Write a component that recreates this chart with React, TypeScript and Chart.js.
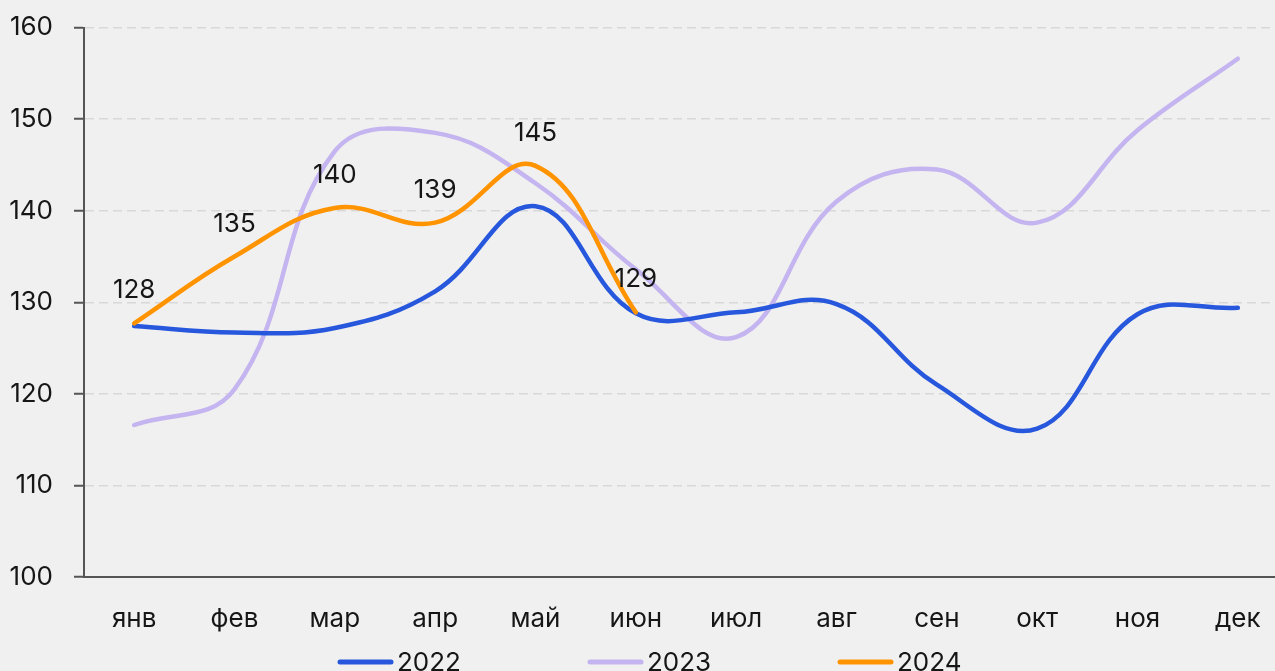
import React, { useEffect, useRef } from "react";
import { Chart, registerables } from "chart.js";

Chart.register(...registerables);

const months = ["янв", "фев", "мар", "апр", "май", "июн", "июл", "авг", "сен", "окт", "ноя", "дек"];
const series2022 = [127.4, 126.7, 127.2, 131.2, 140.5, 128.8, 128.9, 129.8, 121.0, 116.2, 128.7, 129.4];
const series2023 = [116.6, 120.5, 146.5, 148.5, 143.0, 133.6, 126.2, 141.0, 144.5, 138.7, 148.8, 156.6];
const series2024 = [127.7, 135.0, 140.3, 138.7, 144.9, 128.9];
const seriesNames = ["2022", "2023", "2024"];
const seriesColors = ["#2757dc", "#c4b4ef", "#ff9300"];
const yMin = 100;
const yMax = 160;
const yStep = 10;

const FONT = "Inter, 'Noto Sans', sans-serif";
const SHIFT = 9;

const dataLabelPlugin = {
  id: "dataLabels2024",
  afterDatasetsDraw(chart: any) {
    const ctx = chart.ctx;
    const idx = 2;
    const meta = chart.getDatasetMeta(idx);
    const data = chart.data.datasets[idx].data as number[];
    ctx.save();
    ctx.font = `26px ${FONT}`;
    ctx.fillStyle = "#161616";
    ctx.textAlign = "center";
    ctx.textBaseline = "alphabetic";
    meta.data.forEach((pt: any, i: number) => {
      ctx.fillText(String(Math.round(data[i])), pt.x, pt.y - 25);
    });
    ctx.restore();
  },
};

const legendPlugin = {
  id: "bottomLegend",
  afterDraw(chart: any) {
    const ctx = chart.ctx;
    ctx.save();
    ctx.font = `26px ${FONT}`;
    ctx.textBaseline = "alphabetic";
    ctx.textAlign = "left";
    chart.data.datasets.forEach((ds: any, i: number) => {
      const x0 = 340 + i * 250;
      ctx.strokeStyle = ds.borderColor;
      ctx.lineWidth = 5;
      ctx.lineCap = "round";
      ctx.beginPath();
      ctx.moveTo(x0, 662 + SHIFT);
      ctx.lineTo(x0 + 51, 662 + SHIFT);
      ctx.stroke();
      ctx.fillStyle = "#161616";
      ctx.fillText(ds.label, x0 + 57, 671 + SHIFT);
    });
    ctx.restore();
  },
};

export default function App() {
  const canvasRef = useRef<HTMLCanvasElement | null>(null);

  useEffect(() => {
    document.body.style.margin = "0";
    const canvas = canvasRef.current!;
    const chart = new Chart(canvas, {
      type: "line",
      data: {
        labels: months,
        datasets: [series2022, series2023, series2024].map((d, i) => ({
          label: seriesNames[i],
          data: d,
          borderColor: seriesColors[i],
          backgroundColor: seriesColors[i],
          borderWidth: 4.5,
          borderCapStyle: "round" as const,
          borderJoinStyle: "round" as const,
          pointRadius: 0,
          tension: 0.4,
          fill: false,
          order: i === 2 ? 0 : i === 0 ? 1 : 2,
        })),
      },
      options: {
        responsive: false,
        animation: false,
        events: [],
        layout: { padding: { top: 18, left: 0, right: 0, bottom: 0 } },
        plugins: {
          legend: { display: false },
          tooltip: { enabled: false },
        },
        scales: {
          x: {
            offset: true,
            grid: { display: false, drawTicks: false },
            border: { display: true, color: "#555555", width: 2 },
            ticks: {
              font: { family: FONT, size: 26 },
              color: "#161616",
              padding: 27,
              maxRotation: 0,
              autoSkip: false,
            },
            afterFit(scale: any) {
              scale.height = 94;
            },
          },
          y: {
            min: yMin,
            max: yMax,
            grid: {
              color: "#d8d8d8",
              lineWidth: 1.5,
              tickLength: 10,
              tickColor: "#555555",
              tickWidth: 2,
              tickBorderDash: [],
            },
            border: { display: true, color: "#555555", width: 2, dash: [9, 5] },
            ticks: {
              stepSize: yStep,
              font: { family: FONT, size: 26 },
              color: "#161616",
              padding: 21,
            },
            afterFit(scale: any) {
              scale.width = 84;
            },
          },
        },
      },
      plugins: [dataLabelPlugin, legendPlugin],
    });
    return () => chart.destroy();
  }, []);

  return (
    <div
      style={{
        position: "fixed",
        left: 0,
        top: 0,
        width: 1275,
        height: 671,
        overflow: "hidden",
        background: "#f0f0f0",
      }}
    >
      <canvas
        ref={canvasRef}
        width={1288}
        height={671 + SHIFT}
        style={{ display: "block", width: 1288, height: 671 + SHIFT, marginTop: -SHIFT }}
      />
    </div>
  );
}
